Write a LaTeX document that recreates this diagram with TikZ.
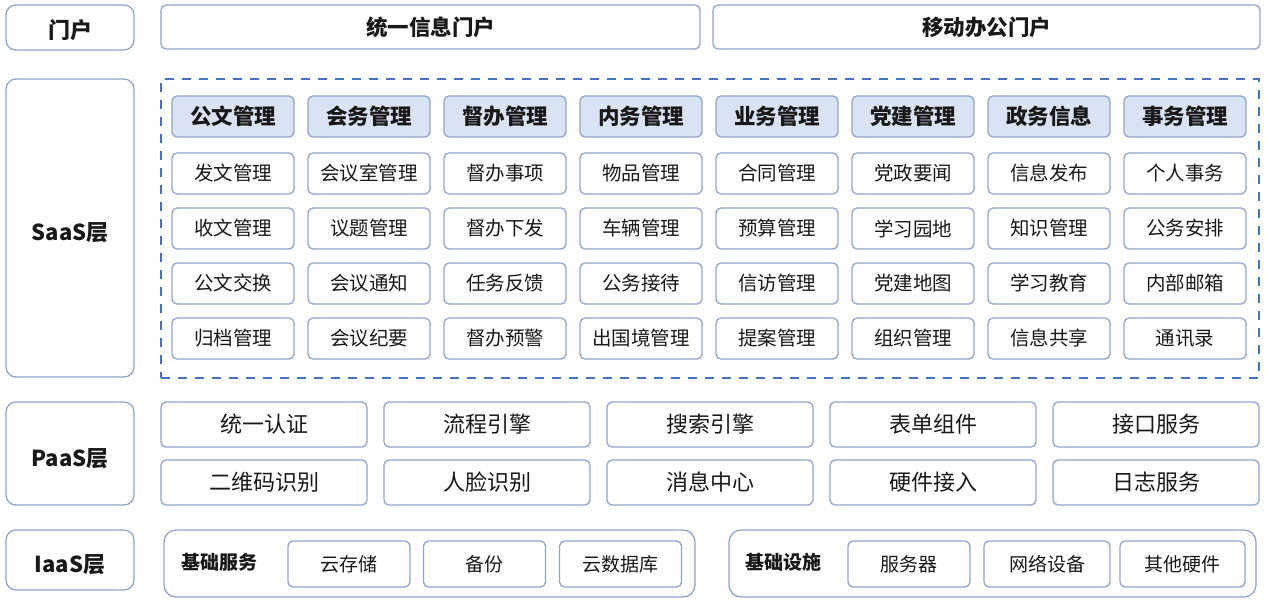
\documentclass[tikz,border=0pt]{standalone}
\usepackage{fontspec}
\setmainfont{Noto Sans CJK SC}
\usetikzlibrary{positioning}
\definecolor{bline}{RGB}{143,165,208}
\definecolor{hfill}{RGB}{218,227,243}
\definecolor{dashc}{RGB}{68,114,196}
\definecolor{txt}{RGB}{25,25,25}
\tikzset{
  box/.style={draw=bline, line width=1.3pt, rounded corners=5pt, fill=white, text=txt, inner sep=0pt, align=center},
  hdr/.style={box, fill=hfill, font=\fontsize{21.5}{23}\selectfont\bfseries, minimum width=122pt, minimum height=41pt},
  cell/.style={box, font=\fontsize{19.5}{21}\selectfont, minimum width=122pt, minimum height=41pt},
  paas/.style={box, font=\fontsize{22}{24}\selectfont, minimum width=206pt, minimum height=45pt},
  iaas/.style={box, font=\fontsize{19}{21}\selectfont, minimum width=122pt, minimum height=46pt},
  layer/.style={box, rounded corners=10pt, minimum width=128pt},
  ltext/.style={text=txt, inner sep=0pt, font=\fontsize{22}{24}\selectfont\bfseries},
  portal/.style={box, font=\fontsize{21.5}{23}\selectfont\bfseries, minimum height=44pt},
  group/.style={draw=bline, line width=1.3pt, rounded corners=12pt, fill=white},
  glabel/.style={text=txt, inner sep=0pt, font=\fontsize{19}{21}\selectfont\bfseries}
}
\begin{document}
\begin{tikzpicture}[x=1pt,y=-1pt]
\useasboundingbox (0,0) rectangle (1268,603);
\fill[white] (0,0) rectangle (1268,603);
% layer labels
\node[layer, minimum height=45pt] (lPortal) at (70,27.5) {};
\node[ltext] (tPortal) at (70,30) {门户};
\node[layer, minimum height=298pt] (lSaaS) at (70,228) {};
\node[ltext] (tSaaS) at (70,232.5) {SaaS层};
\node[layer, minimum height=103pt] (lPaaS) at (70,453.5) {};
\node[ltext] (tPaaS) at (70,459) {PaaS层};
\node[layer, minimum height=60pt] (lIaaS) at (70,560) {};
\node[ltext] (tIaaS) at (70,565) {IaaS层};
% portals
\node[portal, minimum width=539pt] (pUni) at (430.5,27) {统一信息门户};
\node[portal, minimum width=547pt] (pMob) at (986.5,27) {移动办公门户};
% SaaS dashed frame
\node[draw=dashc, line width=1.8pt, dash pattern=on 9pt off 8pt, minimum width=1098pt, minimum height=299pt, inner sep=0pt] (frame) at (710,228.5) {};
\foreach \h/\a/\b/\c/\d [count=\i] in {
  公文管理/发文管理/收文管理/公文交换/归档管理,
  会务管理/会议室管理/议题管理/会议通知/会议纪要,
  督办管理/督办事项/督办下发/任务反馈/督办预警,
  内务管理/物品管理/车辆管理/公务接待/出国境管理,
  业务管理/合同管理/预算管理/信访管理/提案管理,
  党建管理/党政要闻/学习园地/党建地图/组织管理,
  政务信息/信息发布/知识管理/学习教育/信息共享,
  事务管理/个人事务/公务安排/内部邮箱/通讯录}{
  \pgfmathsetmacro{\cx}{233+136*(\i-1)}
  \node[hdr] (h\i) at (\cx,116.5) {\h};
  \node[cell] (r\i a) at (\cx,173.5) {\a};
  \node[cell] (r\i b) at (\cx,228.5) {\b};
  \node[cell] (r\i c) at (\cx,283.5) {\c};
  \node[cell] (r\i d) at (\cx,338.5) {\d};
}
% PaaS
\foreach \a/\b [count=\i] in {统一认证/二维码识别, 流程引擎/人脸识别, 搜索引擎/消息中心, 表单组件/硬件接入, 接口服务/日志服务}{
  \pgfmathsetmacro{\cx}{264+223*(\i-1)}
  \node[paas] (pa\i) at (\cx,424.5) {\a};
  \node[paas] (pb\i) at (\cx,482.5) {\b};
}
% IaaS
\draw[group] (164,530) rectangle (695,597);
\draw[group] (729,530) rectangle (1256,597);
\node[glabel] (gServ) at (219,562) {基础服务};
\node[glabel] (gInfra) at (783,562) {基础设施};
\node[iaas] (i1) at (349,564) {云存储};
\node[iaas] (i2) at (484.5,564) {备份};
\node[iaas] (i3) at (620.5,564) {云数据库};
\node[iaas] (i4) at (909,564) {服务器};
\node[iaas, minimum width=126pt] (i5) at (1047,564) {网络设备};
\node[iaas, minimum width=125pt] (i6) at (1182.5,564) {其他硬件};
\end{tikzpicture}
\end{document}
